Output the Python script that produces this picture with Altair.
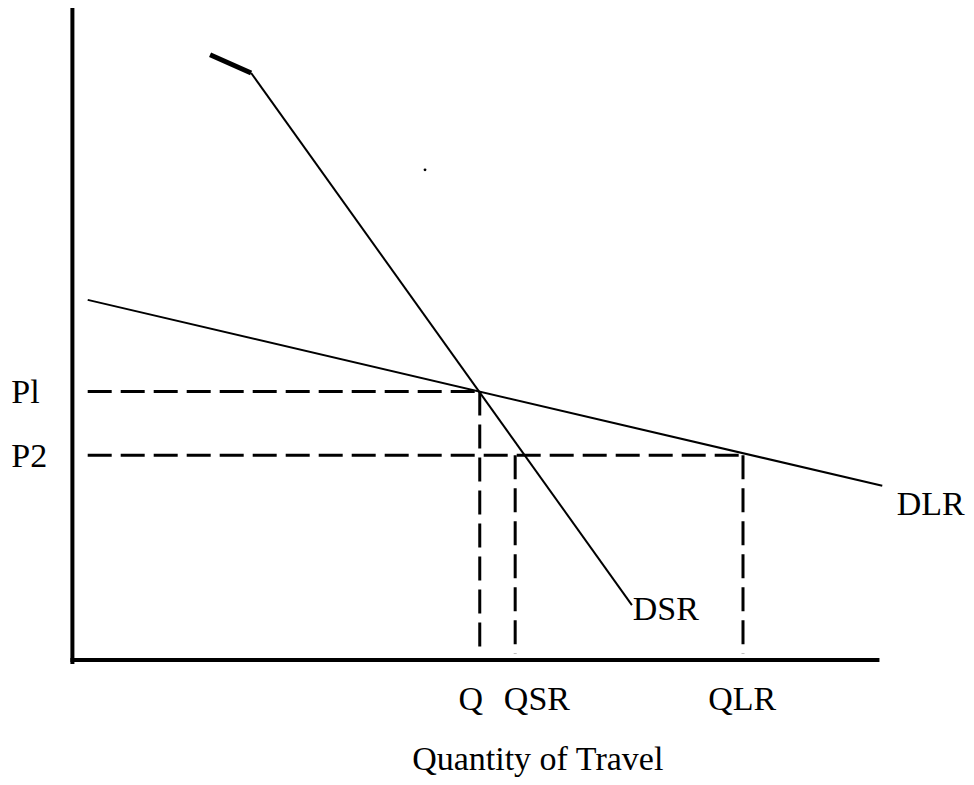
import altair as alt
import pandas as pd

# --- axes (quantity / price units) ---
axis_q1 = [0, 0]
axis_p1 = [-0.3, 0]
axis_q2 = [0, 100]
axis_p2 = [100.1, 0]

# --- demand curves ---
dsr_head_q = [17.1, 22.2]
dsr_head_p = [93.1, 90.3]
curve_names = ["DSR", "DLR"]
curve_q1 = [22.2, 1.9]
curve_p1 = [90.3, 55.4]
curve_q2 = [69.5, 100.6]
curve_p2 = [8.45, 26.8]

# --- dashed guide lines ---
guide_q1 = [1.9, 1.9, 50.6, 55.0, 83.3]
guide_p1 = [41.3, 31.5, 41.3, 31.5, 31.5]
guide_q2 = [50.6, 83.3, 50.6, 55.0, 83.3]
guide_p2 = [41.3, 31.5, 1.0, 1.0, 1.0]

# --- labels ---
left_labels = ["Pl", "P2", "DLR", "DSR", "Quantity of Travel"]
left_q = [-7.6, -7.6, 102.4, 69.6, 42.2]
left_p = [39.5, 29.7, 22.3, 6.1, -16.9]
center_labels = ["Q", "QSR", "QLR"]
center_q = [49.5, 57.7, 83.2]
center_p = [-7.7, -7.7, -7.7]

# --- stray dot ---
dot_q = [43.8]
dot_p = [75.4]

xs = alt.Scale(domain=[-8, 111], nice=False, zero=False)
ys = alt.Scale(domain=[-18, 100.3], nice=False, zero=False)

def seg_chart(q1, p1, q2, p2, **mark):
    df = pd.DataFrame({"q": q1, "p": p1, "q2": q2, "p2": p2})
    return alt.Chart(df).mark_rule(color="black", **mark).encode(
        x=alt.X("q:Q", scale=xs, axis=None),
        y=alt.Y("p:Q", scale=ys, axis=None),
        x2="q2:Q",
        y2="p2:Q",
    )

axes = seg_chart(axis_q1, axis_p1, axis_q2, axis_p2, strokeWidth=4, strokeCap="square")
head = seg_chart([dsr_head_q[0]], [dsr_head_p[0]], [dsr_head_q[1]], [dsr_head_p[1]],
                 strokeWidth=5, strokeCap="butt")
curves = seg_chart(curve_q1, curve_p1, curve_q2, curve_p2, strokeWidth=2)
guides = seg_chart(guide_q1, guide_p1, guide_q2, guide_p2, strokeWidth=3, strokeDash=[24, 9])

left_df = pd.DataFrame({"q": left_q, "p": left_p, "t": left_labels})
left_text = alt.Chart(left_df).mark_text(
    font="Liberation Serif", fontSize=34, align="left", baseline="alphabetic", color="black"
).encode(x=alt.X("q:Q", scale=xs, axis=None), y=alt.Y("p:Q", scale=ys, axis=None), text="t:N")

center_df = pd.DataFrame({"q": center_q, "p": center_p, "t": center_labels})
center_text = alt.Chart(center_df).mark_text(
    font="Liberation Serif", fontSize=34, align="center", baseline="alphabetic", color="black"
).encode(x=alt.X("q:Q", scale=xs, axis=None), y=alt.Y("p:Q", scale=ys, axis=None), text="t:N")

dot = alt.Chart(pd.DataFrame({"q": dot_q, "p": dot_p})).mark_point(
    filled=True, color="black", size=8, opacity=1
).encode(x=alt.X("q:Q", scale=xs, axis=None), y=alt.Y("p:Q", scale=ys, axis=None))

chart = alt.layer(axes, head, curves, guides, left_text, center_text, dot).properties(
    width=958, height=769, padding=0, autosize=alt.AutoSizeParams(type="none")
).configure_view(stroke=None)

chart.save("out.html", embed_options={"renderer": "svg", "actions": False})
